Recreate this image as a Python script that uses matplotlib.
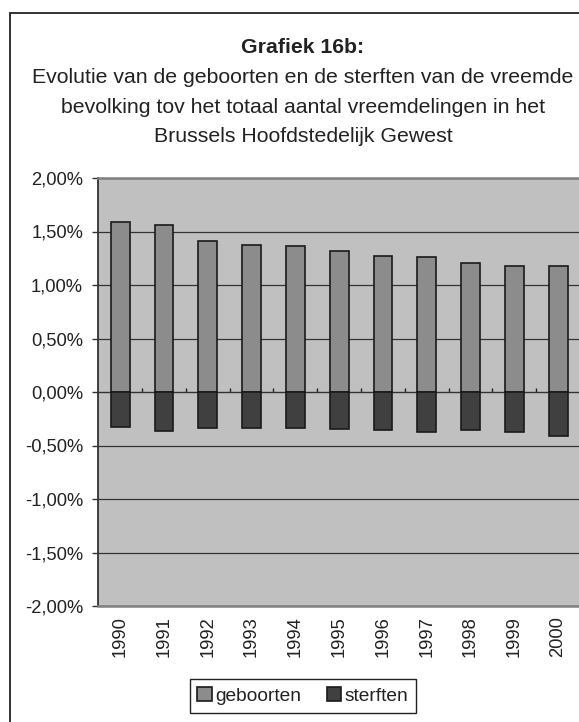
import matplotlib
matplotlib.use("Agg")
import matplotlib.pyplot as plt
from matplotlib.patches import Rectangle, Patch

# ---- data ----
years = ["1990", "1991", "1992", "1993", "1994", "1995", "1996", "1997", "1998", "1999", "2000"]
geboorten = [1.59, 1.56, 1.41, 1.37, 1.365, 1.32, 1.27, 1.26, 1.205, 1.18, 1.18]
sterften = [-0.33, -0.36, -0.34, -0.335, -0.34, -0.345, -0.355, -0.375, -0.355, -0.37, -0.415]
yticks = [2.0, 1.5, 1.0, 0.5, 0.0, -0.5, -1.0, -1.5, -2.0]
title_bold = "Grafiek 16b:"
title_lines = ["Evolutie van de geboorten en de sterften van de vreemde",
               "bevolking tov het totaal aantal vreemdelingen in het",
               "Brussels Hoofdstedelijk Gewest"]
series_names = ["geboorten", "sterften"]

plt.rcParams['font.family'] = ['Liberation Sans', 'DejaVu Sans']
FS_T = 15.3   # title
FS = 13.2     # ticks
FS_L = 13.8   # legend

W, H = 579, 722
fig = plt.figure(figsize=(W / 100, H / 100), dpi=100)

# outer chart border (clipped on right and bottom)
fig.patches.append(Rectangle((9.5 / W, -0.1), 1.2, (1 - 12.7 / H) + 0.1,
                             transform=fig.transFigure, fill=False,
                             edgecolor="#222222", lw=1.3))

ax_l, ax_r, ax_t, ax_b = 98.3, 580.0, 178.0, 606.0
ax = fig.add_axes([ax_l / W, 1 - ax_b / H, (ax_r - ax_l) / W, (ax_b - ax_t) / H])
ax.set_facecolor("#c0c0c0")

x = list(range(len(years)))
ax.bar(x, geboorten, width=0.43, color="#8c8c8c", edgecolor="#1a1a1a", linewidth=1.2, zorder=3)
ax.bar(x, sterften, width=0.43, color="#404040", edgecolor="#1a1a1a", linewidth=1.2, zorder=3)

ax.set_xlim(-0.5, len(years) - 0.5)
ax.set_ylim(-2, 2)
ax.set_yticks(yticks)
ax.set_yticklabels([("%.2f%%" % v).replace(".", ",") for v in yticks], fontsize=FS, color="#222222")
ax.tick_params(axis="y", direction="out", length=4, width=1, pad=7, color="#333333")
for v in yticks:
    ax.axhline(v, color="#333333", lw=0.9, zorder=1)

ax.set_xticks(x)
ax.set_xticklabels(years, rotation=90, fontsize=FS, color="#222222")
ax.tick_params(axis="x", length=0, pad=7.5)

for s in ["top", "right", "bottom"]:
    ax.spines[s].set_color("#808080")
    ax.spines[s].set_linewidth(1.8)
ax.spines["left"].set_color("#333333")
ax.spines["left"].set_linewidth(1.3)

# category axis crossing at zero with tick marks between categories
sec = ax.secondary_xaxis(0.5)
sec.set_xticks([i + 0.5 for i in x[:-1]])
sec.set_xticklabels([])
sec.tick_params(direction="out", length=3, width=1, color="#222222")
sec.spines["bottom"].set_color("#555555")
sec.spines["bottom"].set_linewidth(1.0)

# titles
cx = 303 / W
fig.text(cx, 1 - 53.3 / H, title_bold, ha="center", va="baseline", fontsize=FS_T, fontweight="bold", color="#222222")
for i, line in enumerate(title_lines):
    fig.text(cx, 1 - (83 + 29.7 * i) / H, line, ha="center", va="baseline", fontsize=FS_T, color="#222222")

handles = [Patch(facecolor="#8c8c8c", edgecolor="#1a1a1a", lw=1.2),
           Patch(facecolor="#404040", edgecolor="#1a1a1a", lw=1.2)]
leg = fig.legend(handles, series_names, loc="center", bbox_to_anchor=(cx, 1 - 696 / H),
                 ncol=2, fontsize=FS_L, frameon=True, fancybox=False, framealpha=1,
                 edgecolor="#222222", handlelength=0.75, handleheight=0.75,
                 handletextpad=0.2, columnspacing=1.3, borderpad=0.4)
leg.get_frame().set_linewidth(1.0)
for t in leg.get_texts():
    t.set_color("#222222")

fig.savefig("out.png", dpi=100)
